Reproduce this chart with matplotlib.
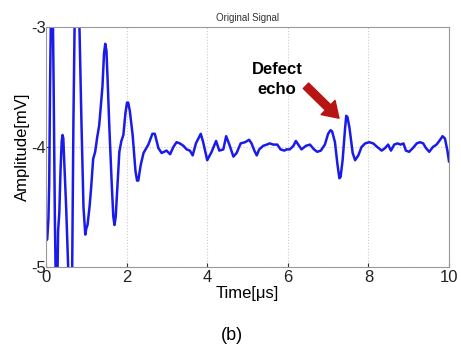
import matplotlib
matplotlib.use("Agg")
import matplotlib.pyplot as plt

plt.rcParams['font.family'] = ['Liberation Sans', 'DejaVu Sans']

time_us = [0.0, 0.03, 0.06, 0.08, 0.10, 0.13, 0.16, 0.19, 0.22, 0.25, 0.28, 0.30, 0.33,
           0.36, 0.39, 0.41, 0.43, 0.45, 0.50, 0.55, 0.58, 0.62, 0.65, 0.68, 0.72, 0.77, 0.80,
           0.83, 0.88, 0.93, 0.975, 1.0, 1.03, 1.08, 1.12, 1.17, 1.22, 1.27, 1.32, 1.40,
           1.44, 1.47, 1.50, 1.53, 1.57, 1.63, 1.67, 1.70, 1.73, 1.76, 1.82, 1.87, 1.92, 1.97,
           2.01, 2.04, 2.08, 2.15, 2.22, 2.26, 2.29, 2.35, 2.42, 2.54, 2.64, 2.70, 2.79, 2.87,
           2.99, 3.08, 3.16, 3.24, 3.32, 3.41, 3.49, 3.57, 3.64, 3.72, 3.84, 3.90, 4.00, 4.11,
           4.22, 4.30, 4.40, 4.47, 4.55, 4.65, 4.73, 4.83, 4.94, 5.04, 5.10, 5.17, 5.23, 5.29,
           5.39, 5.48, 5.55, 5.64, 5.74, 5.82, 5.91, 5.97, 6.05, 6.14, 6.20, 6.26, 6.34, 6.45,
           6.55, 6.65, 6.73, 6.82, 6.92, 7.00, 7.06, 7.10, 7.17, 7.23, 7.28, 7.31, 7.36, 7.42,
           7.45, 7.48, 7.53, 7.61, 7.67, 7.75, 7.83, 7.92, 8.02, 8.12, 8.22, 8.33, 8.41, 8.49,
           8.56, 8.64, 8.72, 8.80, 8.87, 8.93, 9.01, 9.10, 9.20, 9.28, 9.36, 9.43, 9.51, 9.60,
           9.69, 9.78, 9.84, 9.90, 9.96, 10.0]
amplitude_mv = [-4.78, -4.77, -4.6, -4.3, -3.5, -2.7, -2.6, -3.5, -4.6, -5.3, -5.2, -4.7, -4.55,
                -4.2, -3.95, -3.9, -3.93, -4.1, -4.5, -5.0, -5.4, -5.4, -5.0, -3.8, -2.7, -2.5, -2.8,
                -3.0, -3.8, -4.5, -4.73, -4.68, -4.65, -4.5, -4.34, -4.1, -4.04, -3.92, -3.82, -3.5,
                -3.22, -3.14, -3.2, -3.45, -3.82, -4.3, -4.58, -4.65, -4.58, -4.4, -4.04, -3.95, -3.9, -3.72,
                -3.63, -3.63, -3.7, -3.9, -4.2, -4.28, -4.28, -4.15, -4.05, -3.98, -3.89, -3.89, -4.01, -4.05,
                -4.03, -4.06, -4.0, -3.96, -3.97, -3.99, -4.02, -4.03, -4.07, -3.97, -3.89, -3.96, -4.11, -4.04,
                -3.95, -4.03, -4.02, -3.91, -3.98, -4.08, -4.05, -3.97, -3.96, -3.94, -3.97, -4.03, -4.07, -4.02,
                -3.99, -3.98, -3.97, -3.98, -3.98, -4.02, -4.03, -4.02, -4.02, -3.99, -3.95, -3.98, -4.02, -3.99,
                -3.98, -4.02, -4.04, -4.03, -3.98, -3.89, -3.86, -3.87, -3.96, -4.14, -4.26, -4.25, -4.11, -3.85,
                -3.74, -3.75, -3.84, -4.05, -4.11, -4.07, -4.0, -3.97, -3.96, -3.97, -4.0, -4.03, -4.01, -3.98,
                -4.03, -3.98, -3.97, -3.98, -3.97, -4.03, -4.04, -4.01, -3.97, -3.96, -3.97, -4.01, -4.04, -4.0,
                -3.98, -3.94, -3.91, -3.93, -4.03, -4.12]

x_ticks = [0, 2, 4, 6, 8, 10]
y_ticks = [-5, -4, -3]

fig = plt.figure(figsize=(4.61, 3.53), dpi=100)
ax = fig.add_axes([46/461, 86/353, 403/461, 240/353])
ax.plot(time_us, amplitude_mv, color='#1a1aeb', lw=1.8, solid_joinstyle='round')
ax.set_xlim(0, 10)
ax.set_ylim(-5, -3)
ax.set_xticks(x_ticks)
ax.set_yticks(y_ticks)
ax.set_xticklabels([str(v) for v in x_ticks], fontsize=12)
ax.set_yticklabels([str(v) for v in y_ticks], fontsize=12)
ax.tick_params(direction='in', length=3, colors='#333333', labelcolor='#222222')
ax.tick_params(axis='x', pad=2)
ax.tick_params(axis='y', pad=0)
ax.grid(True, color='#cccccc', linestyle=':', linewidth=0.8)
for s in ax.spines.values():
    s.set_color('#999999')
    s.set_linewidth(0.8)
ax.set_title('Original Signal', fontsize=7, color='#333333', pad=4)
ax.set_xlabel('Time[μs]', fontsize=12, labelpad=1)
ax.set_ylabel('Amplitude[mV]', fontsize=12, labelpad=1)

ax.text(5.73, -3.44, 'Defect\necho', fontsize=12, fontweight='bold',
        ha='center', va='center', linespacing=1.4)
ax.annotate('', xy=(7.27, -3.76), xytext=(6.45, -3.49),
            arrowprops=dict(arrowstyle='simple,head_width=1.3,head_length=1.0,tail_width=0.5',
                            mutation_scale=11, color='#b81414', shrinkA=0, shrinkB=0))

fig.text(232/461, 1 - 335/353, '(b)', fontsize=13, ha='center', va='center')
fig.savefig('out.png', dpi=100)
